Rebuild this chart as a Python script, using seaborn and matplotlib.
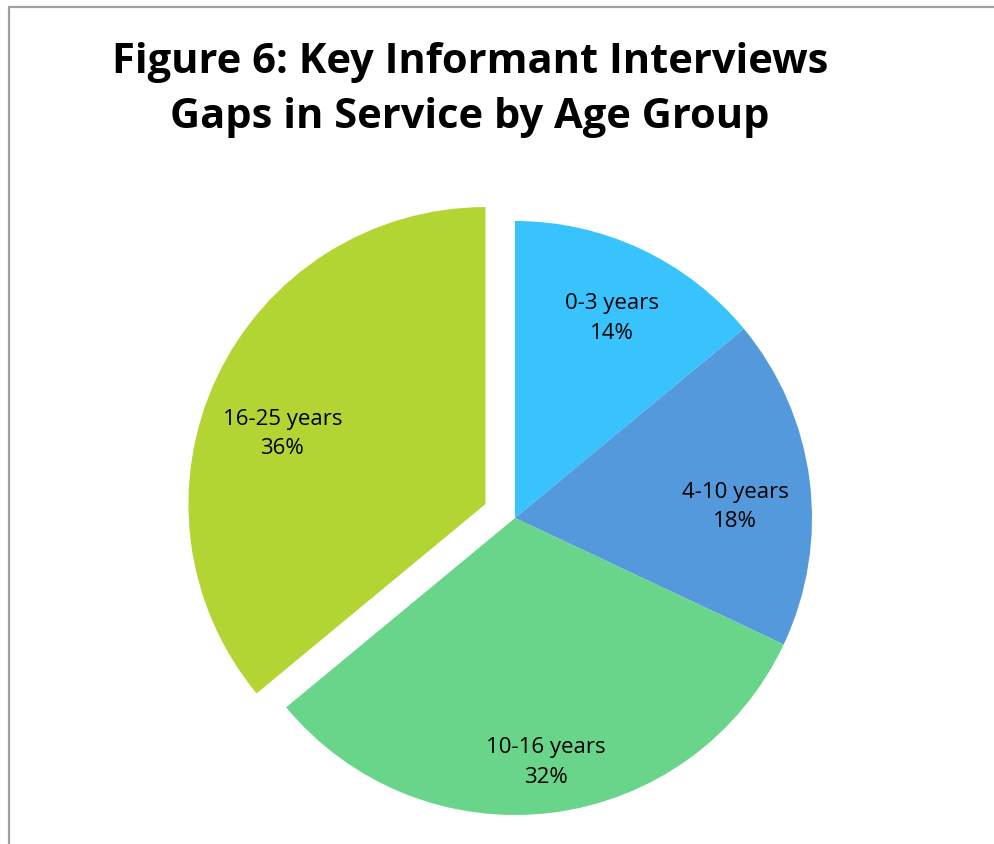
import matplotlib
matplotlib.use("Agg")
import matplotlib.pyplot as plt
from matplotlib.lines import Line2D
import seaborn as sns

# Age groups and share of reported service gaps (%)
age_groups = ["0-3 years", "4-10 years", "10-16 years", "16-25 years"]
shares = [14, 18, 32, 36]
slice_colors = ["#38C3FD", "#5399DB", "#68D58A", "#B3D534"]
explode = [0, 0, 0, 0.11]
# label anchor of each slice, relative to the slice's centre, in radius units
label_offsets = [(0.327, 0.673), (0.741, 0.037), (0.104, -0.822), (-0.684, 0.236)]

title = "Figure 6: Key Informant Interviews\nGaps in Service by Age Group"

sns.set_theme(style="white")
plt.rcParams["font.family"] = ["Open Sans", "DejaVu Sans"]
palette = sns.color_palette(slice_colors)

W, H, DPI = 994, 844, 100
fig = plt.figure(figsize=(W / DPI, H / DPI), dpi=DPI)
fig.patch.set_facecolor("white")
ax = fig.add_axes([0, 0, 1, 1])

wedges, _ = ax.pie(shares, colors=palette, startangle=90, counterclock=False,
                   explode=explode, radius=1.0,
                   wedgeprops=dict(linewidth=0, antialiased=True))

# pie centre placed at (515, 518) px with a radius of 297 px
scale = 297.0
cx, cy = 515.0, 518.0
ax.set_aspect("auto")
ax.set_xlim(-cx / scale, (W - cx) / scale)
ax.set_ylim(-(H - cy) / scale, cy / scale)
ax.axis("off")

for w, name, val, (dx, dy) in zip(wedges, age_groups, shares, label_offsets):
    x0, y0 = w.center
    ax.text(x0 + dx, y0 + dy, f"{name}\n{val}%",
            ha="center", va="center", fontsize=16, color="black",
            linespacing=1.55)

fig.text(470 / W, 1 - 90 / H, title, ha="center", va="center",
         fontsize=30, fontweight="bold", color="black", linespacing=1.45)

# chart frame along the top and left edges
frame = "#A0A0A0"
fig.add_artist(Line2D([8.5, W], [H - 6.5, H - 6.5], transform=None,
                      color=frame, linewidth=1.6))
fig.add_artist(Line2D([8.5, 8.5], [0, H - 6.5], transform=None,
                      color=frame, linewidth=1.6))

fig.savefig("out.png", dpi=DPI, facecolor="white")
